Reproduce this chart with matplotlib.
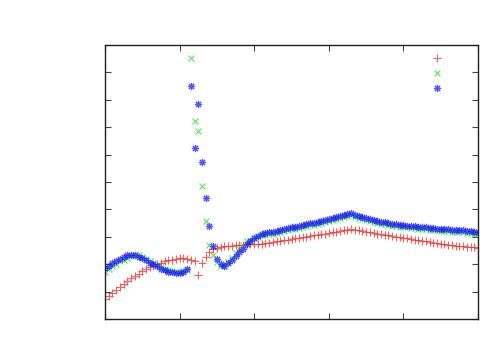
import matplotlib
matplotlib.use("Agg")
import matplotlib.pyplot as plt
import numpy as np

# sample index (uniform grid, 101 samples)
n_samples = 101

red = [0.73, 0.84, 0.95, 1.06, 1.17, 1.28, 1.39, 1.48, 1.57, 1.66,
       1.75, 1.82, 1.90, 1.95, 2.01, 2.06, 2.10, 2.14, 2.17, 2.19,
       2.21, 2.21, 2.19, 2.17, 2.12, 1.61, 2.04, 2.26, 2.45, 2.54,
       2.59, 2.63, 2.65, 2.66, 2.68, 2.69, 2.70, 2.71, 2.72, 2.72,
       2.73, 2.74, 2.75, 2.76, 2.78, 2.80, 2.83, 2.85, 2.87, 2.89,
       2.92, 2.94, 2.96, 2.98, 3.01, 3.03, 3.05, 3.07, 3.09, 3.12,
       3.14, 3.16, 3.19, 3.21, 3.23, 3.25, 3.27, 3.25, 3.23, 3.20,
       3.18, 3.16, 3.14, 3.11, 3.09, 3.07, 3.05, 3.03, 3.00, 2.98,
       2.96, 2.94, 2.92, 2.89, 2.87, 2.85, 2.83, 2.81, 2.79, 2.76,
       2.74, 2.73, 2.71, 2.69, 2.68, 2.66, 2.65, 2.64, 2.62, 2.61,
       2.59]

green = [1.72, 1.82, 1.92, 2.01, 2.10, 2.17, 2.24, 2.30, 2.34, 2.32,
         2.26, 2.19, 2.12, 2.04, 1.97, 1.90, 1.84, 1.79, 1.75, 1.73,
         1.73, 1.75, 1.79, 9.53, 7.24, 6.86, 4.84, 3.56, 2.70, 2.34,
         2.08, 1.92, 1.93, 2.08, 2.24, 2.41, 2.55, 2.70, 2.83, 2.90,
         2.97, 3.01, 3.05, 3.06, 3.09, 3.12, 3.15, 3.18, 3.21, 3.24,
         3.27, 3.29, 3.32, 3.35, 3.38, 3.42, 3.44, 3.47, 3.51, 3.54,
         3.57, 3.61, 3.65, 3.68, 3.72, 3.75, 3.79, 3.74, 3.70, 3.65,
         3.61, 3.58, 3.54, 3.51, 3.48, 3.46, 3.43, 3.41, 3.39, 3.37,
         3.35, 3.34, 3.32, 3.31, 3.29, 3.28, 3.27, 3.25, 3.24, 3.23,
         3.22, 3.21, 3.20, 3.19, 3.18, 3.17, 3.16, 3.15, 3.13, 3.12,
         3.11]

blue = [1.86, 1.95, 2.04, 2.12, 2.19, 2.26, 2.32, 2.34, 2.32, 2.26,
        2.21, 2.14, 2.06, 1.99, 1.92, 1.84, 1.79, 1.73, 1.70, 1.68,
        1.68, 1.72, 1.81, 8.50, 6.24, 7.85, 5.73, 4.40, 3.39, 2.66,
        2.19, 1.99, 1.93, 2.03, 2.15, 2.30, 2.45, 2.57, 2.72, 2.85,
        2.94, 3.03, 3.10, 3.13, 3.16, 3.19, 3.22, 3.25, 3.28, 3.31,
        3.34, 3.36, 3.39, 3.42, 3.45, 3.49, 3.51, 3.54, 3.58, 3.61,
        3.64, 3.68, 3.72, 3.75, 3.79, 3.82, 3.86, 3.81, 3.77, 3.72,
        3.68, 3.65, 3.61, 3.58, 3.55, 3.53, 3.50, 3.48, 3.46, 3.44,
        3.42, 3.41, 3.39, 3.38, 3.36, 3.35, 3.34, 3.32, 3.31, 3.30,
        3.29, 3.28, 3.27, 3.26, 3.25, 3.24, 3.23, 3.22, 3.20, 3.19,
        3.18]

x_limits = (0, 100)
y_limits = (0, 10)
x_ticks = [0, 20, 40, 60, 80, 100]
y_ticks = [0, 1, 2, 3, 4, 5, 6, 7, 8, 9, 10]

fig = plt.figure(figsize=(5, 3.5), dpi=100)
ax = fig.add_axes([0.21, 0.0886, 0.746, 0.7828])

x = np.arange(n_samples)
ms = 5.2
lw = 0.8
h1, = ax.plot(x, red, linestyle='none', marker='+', color='#ff2a2a',
              markersize=ms, markeredgewidth=lw, alpha=0.75)
h2, = ax.plot(x, green, linestyle='none', marker='x', color='#22dd22',
              markersize=ms * 0.85, markeredgewidth=lw, alpha=0.75)
h3, = ax.plot(x, blue, linestyle='none', marker=(8, 2, 0), color='#1a1aff',
              markersize=ms, markeredgewidth=lw, alpha=0.75)

ax.set_xlim(*x_limits)
ax.set_ylim(*y_limits)
ax.set_xticks(x_ticks)
ax.set_yticks(y_ticks)
ax.set_xticklabels([])
ax.set_yticklabels([])
ax.tick_params(direction='in', length=4, width=0.8, top=True, right=True,
               color='#444444')
for s in ax.spines.values():
    s.set_linewidth(1.0)
    s.set_color('#222222')

leg = ax.legend([h1, h2, h3], [' ', ' ', ' '], loc='upper left',
                bbox_to_anchor=(0.86, 0.985), frameon=False,
                handlelength=1.2, handletextpad=0.2, fontsize=8,
                labelspacing=0.45, borderaxespad=0, numpoints=1)

fig.savefig('out.png', dpi=100)
